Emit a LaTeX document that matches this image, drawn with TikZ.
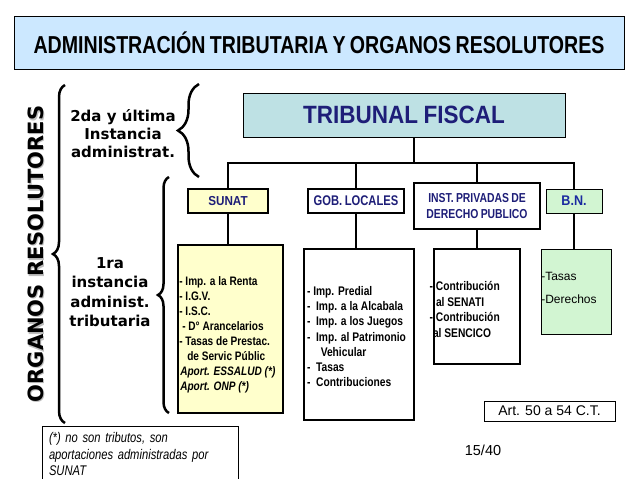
\documentclass[tikz,border=0pt]{standalone}
\usepackage{fontspec}
\setmainfont{Liberation Sans}
\newfontfamily\narrowsf[FakeStretch=0.8, WordSpace=0.8]{Liberation Sans}
\newfontfamily\listsf[FakeStretch=0.82]{Liberation Sans}
\newfontfamily\semisf[FakeStretch=0.9, WordSpace=0.9]{Liberation Sans}
\newfontfamily\verdsf{DejaVu Sans}
\usetikzlibrary{positioning, decorations.pathreplacing}

\definecolor{titleblue}{HTML}{CCE8FF}
\definecolor{tribteal}{HTML}{BEE1E4}
\definecolor{sunatyellow}{HTML}{FFFFCC}
\definecolor{bngreen}{HTML}{D2F5D2}
\definecolor{navy}{HTML}{1E1E78}
\definecolor{bnblue}{HTML}{1A2AA0}

\begin{document}
\begin{tikzpicture}[
    x=1pt, y=-1pt,
    every node/.style={inner sep=0pt},
    hdr/.style={draw, align=center, text=navy},
    listbox/.style={draw, anchor=center},
    listtext/.style={align=left, anchor=north west},
    brc/.style={decorate, decoration={brace, amplitude=#1}, line width=2.5pt},
    link/.style={line width=1.1pt}
]
    \fill[white] (0,0) rectangle (638,479);
    \useasboundingbox (0,0) rectangle (638,479);

    % title
    \node[draw, line width=0.9pt, fill=titleblue, minimum width=610pt, minimum height=53pt,
          font=\narrowsf\bfseries\fontsize{24.5}{28}\selectfont] (title) at (319,43)
        {ADMINISTRACIÓN TRIBUTARIA Y ORGANOS RESOLUTORES};

    % vertical label with its shadow
    \node[rotate=90, text=gray!50, font=\verdsf\bfseries\fontsize{21}{24}\selectfont]
        (organosshadow) at (37,255.5) {ORGANOS RESOLUTORES};
    \node[rotate=90, font=\verdsf\bfseries\fontsize{21}{24}\selectfont]
        (organos) at (35.5,254) {ORGANOS RESOLUTORES};

    % instances
    \node[align=center, font=\verdsf\bfseries\fontsize{15}{18}\selectfont] (segunda) at (123,134)
        {2da y última\\Instancia\\administrat.};
    \node[align=center, font=\verdsf\bfseries\fontsize{15}{19.3}\selectfont] (primera) at (110,292)
        {1ra\\instancia\\administ.\\tributaria};

    % braces
    \draw[brc=12] (65,423) -- (65,85);
    \draw[brc=21] (199,177) -- (199,84);
    \draw[brc=11] (169,413) -- (169,177);

    % tribunal and heads
    \node[draw, line width=0.9pt, fill=tribteal, text=navy, minimum width=322pt, minimum height=44pt,
          font=\semisf\bfseries\fontsize{25}{28}\selectfont] (trib) at (404,115) {TRIBUNAL FISCAL};

    \node[hdr, fill=sunatyellow, line width=1.8pt, minimum width=80pt, minimum height=24pt,
          font=\semisf\bfseries\fontsize{13}{15}\selectfont] (sunat) at (228,201) {SUNAT};
    \node[hdr, line width=2.4pt, minimum width=96pt, minimum height=24pt,
          font=\narrowsf\bfseries\fontsize{14}{16}\selectfont] (gob) at (356,201) {GOB. LOCALES};
    \node[hdr, line width=2.4pt, minimum width=126pt, minimum height=46pt,
          font=\narrowsf\bfseries\fontsize{13}{16}\selectfont] (inst) at (477,206)
        {INST. PRIVADAS DE\\DERECHO PUBLICO};
    \node[hdr, fill=bngreen, text=bnblue, line width=0.9pt, minimum width=56pt, minimum height=24pt,
          font=\semisf\bfseries\fontsize{14}{16}\selectfont] (bn) at (574,201) {B.N.};

    % lists
    \node[listbox, fill=sunatyellow, line width=1.8pt, minimum width=105pt, minimum height=168pt]
        (lsunat) at (230.5,329) {};
    \node[listbox, line width=2.4pt, minimum width=110pt, minimum height=171pt]
        (lgob) at (359,334.5) {};
    \node[listbox, line width=2.4pt, minimum width=86pt, minimum height=115pt]
        (linst) at (477,306.5) {};
    \node[listbox, fill=bngreen, line width=0.9pt, minimum width=70pt, minimum height=85pt]
        (lbn) at (576,291.5) {};

    \node[listtext, font=\listsf\bfseries\fontsize{12.3}{15}\selectfont]
        (tsunat) at ([shift={(2,32.5)}]lsunat.north west)
        {- Imp. a la Renta\\
         - I.G.V.\\
         - I.S.C.\\
         \hspace*{3pt}- D° Arancelarios\\
         - Tasas de Prestac.\\
         \hspace*{8pt}de Servic Públic\\
         \hspace*{1pt}\textit{Aport. ESSALUD (*)}\\
         \hspace*{1pt}\textit{Aport. ONP (*)}};
    \node[listtext, font=\listsf\bfseries\fontsize{12.5}{15.2}\selectfont]
        (tgob) at ([shift={(4,38.5)}]lgob.north west)
        {- Imp. Predial\\
         - \ Imp. a la Alcabala\\
         - \ Imp. a los Juegos\\
         - \ Imp. al Patrimonio\\
         \hspace*{1.1em}Vehicular\\
         - \ Tasas\\
         - \ Contribuciones};
    \node[listtext, font=\listsf\bfseries\fontsize{12.5}{15.5}\selectfont]
        (tinst) at ([shift={(3,33.5)}]linst.north west)
        {\leavevmode\llap{- }Contribución\\
         al SENATI\\
         \leavevmode\llap{- }Contribución\\
         \hspace*{-3pt}al SENCICO};
    \node[listtext, font=\fontsize{12}{23}\selectfont]
        (tbn) at ([shift={(0.5,23)}]lbn.north west)
        {-Tasas\\-Derechos};

    % connectors
    \coordinate (bus) at (414,163);
    \draw[link] (bus |- trib.south) -- (bus);
    \draw[link] (sunat.north) |- (bus) -| (bn.north);
    \foreach \hd in {gob,inst}
        \draw[link] (\hd.north) -- (\hd.north |- bus);
    \foreach \hd in {sunat,gob,inst,bn}
        \draw[link] (\hd.south) -- (\hd.south |- l\hd.north);

    % notes
    \node[draw, line width=1pt, minimum width=131pt, minimum height=20pt,
          font=\fontsize{14}{16}\selectfont] (art) at (549.5,411) {Art. 50 a 54 C.T.};
    \node[font=\fontsize{14.5}{16}\selectfont] (pagenum) at (483,450) {15/40};
    \node[draw, line width=0.9pt, minimum width=196pt, minimum height=56pt,
          inner xsep=7pt, text width=182pt, align=left,
          font=\narrowsf\itshape\fontsize{14}{16.5}\selectfont] (footnote) at (140,454)
        {(*) no son tributos, son\\aportaciones administradas por\\SUNAT};
\end{tikzpicture}
\end{document}
